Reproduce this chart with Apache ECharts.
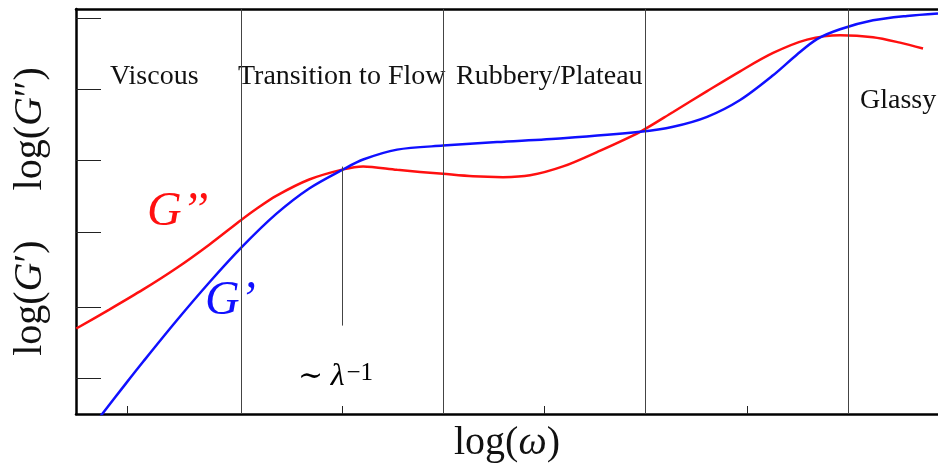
<!DOCTYPE html>
<html>
<head>
<meta charset="utf-8">
<script src="https://cdn.jsdelivr.net/npm/echarts@6/dist/echarts.min.js"></script>
<style>html,body{margin:0;padding:0;background:#fff}#c{width:938px;height:468px}</style>
</head>
<body>
<div id="c"></div>
<script>
// log(omega) positions (arbitrary decades) and log modulus values
const gppX = [0.373, 0.699, 1.035, 1.361, 1.687, 2.003, 2.151, 2.349, 2.675, 3.011, 3.208, 3.544, 3.998, 4.294, 4.591, 4.858, 5.184, 5.520, 5.946, 6.272, 6.608, 6.934, 7.260, 7.596, 7.922, 8.248, 8.515, 8.742];
const gppY = [1.199, 1.464, 1.747, 2.044, 2.375, 2.722, 2.876, 3.060, 3.289, 3.431, 3.472, 3.424, 3.368, 3.333, 3.322, 3.347, 3.472, 3.674, 3.958, 4.236, 4.528, 4.806, 5.063, 5.250, 5.313, 5.285, 5.208, 5.125];
const gpX = [0.560, 0.629, 0.866, 1.035, 1.361, 1.687, 2.003, 2.349, 2.675, 3.011, 3.208, 3.544, 3.998, 4.531, 5.184, 5.946, 6.272, 6.608, 6.934, 7.260, 7.497, 7.694, 7.922, 8.248, 8.584, 8.890];
const gpY = [-0.125, 0.000, 0.433, 0.736, 1.304, 1.844, 2.333, 2.806, 3.163, 3.431, 3.569, 3.708, 3.764, 3.813, 3.868, 3.958, 4.028, 4.167, 4.403, 4.750, 5.042, 5.257, 5.396, 5.521, 5.583, 5.618];
const regionBounds = [2, 4, 6, 8];
const lambdaX = 3;
const lambdaY = [1.24, 3.47];
const xTicks = [0.876, 3, 5, 7];
const yTicks = [0.5, 1.5, 2.556, 3.556, 4.556, 5.556];
const regionNames = ['Viscous', 'Transition to Flow', 'Rubbery/Plateau', 'Glassy'];

const serif = '"Liberation Serif", "DejaVu Serif", serif';
const zip = (xs, ys) => xs.map((x, i) => [x, ys[i]]);

const chart = echarts.init(document.getElementById('c'), null, {renderer: 'canvas'});
chart.setOption({
  animation: false,
  backgroundColor: '#fff',
  grid: {left: 76, right: 0, top: 9, bottom: 50, containLabel: false},
  xAxis: [{
    type: 'value', min: 0.37, max: 8.89,
    axisLine: {show: true, lineStyle: {color: '#000', width: 2.5}},
    axisTick: {show: true, inside: true, length: 8, customValues: xTicks, lineStyle: {color: '#222', width: 1}},
    axisLabel: {show: false},
    splitLine: {show: false},
    name: '{a|log(}{i|ω}{a|)}',
    nameLocation: 'middle', nameGap: 9,
    nameTextStyle: {
      fontFamily: serif, fontSize: 40, color: '#111', verticalAlign: 'top',
      rich: {a: {fontFamily: serif, fontSize: 40, color: '#111'}, i: {fontFamily: serif, fontSize: 40, fontStyle: 'italic', color: '#111'}}
    }
  }, {
    type: 'value', position: 'top', min: 0.37, max: 8.89,
    axisLine: {show: true, onZero: false, lineStyle: {color: '#000', width: 2.5}},
    axisTick: {show: false}, axisLabel: {show: false}, splitLine: {show: false}
  }],
  yAxis: {
    type: 'value', min: 0, max: 5.68,
    axisLine: {show: true, lineStyle: {color: '#000', width: 2.5}},
    axisTick: {show: true, inside: true, length: 25, customValues: yTicks, lineStyle: {color: '#222', width: 1}},
    axisLabel: {show: false},
    splitLine: {show: false},
    name: '{a|log(}{i|G}{a|′)}{sp| }{a|log(}{i|G}{a|″)}',
    nameLocation: 'middle', nameGap: 26, nameRotate: 90,
    nameTextStyle: {
      fontFamily: serif, fontSize: 40, color: '#111',
      rich: {
        a: {fontFamily: serif, fontSize: 40, color: '#111'},
        i: {fontFamily: serif, fontSize: 40, fontStyle: 'italic', color: '#111'},
        sp: {width: 50, fontSize: 40}
      }
    }
  },
  series: [{
    name: 'G″', type: 'line', data: zip(gppX, gppY), smooth: 0.3, showSymbol: false, clip: true,
    lineStyle: {color: '#ff1010', width: 2.5}, z: 3,
    markLine: {
      silent: true, symbol: 'none', label: {show: false},
      lineStyle: {color: '#444', width: 1, type: 'solid'},
      data: regionBounds.map(v => ({xAxis: v})).concat([[{coord: [lambdaX, lambdaY[0]]}, {coord: [lambdaX, lambdaY[1]]}]])
    }
  }, {
    name: 'G′', type: 'line', data: zip(gpX, gpY), smooth: 0.3, showSymbol: false, clip: true,
    lineStyle: {color: '#1010ff', width: 2.5}, z: 4
  }],
  graphic: [
    {type: 'text', left: 110, top: 63, style: {text: regionNames[0], font: '28px ' + serif, fill: '#111'}},
    {type: 'text', left: 238, top: 63, style: {text: regionNames[1], font: '28px ' + serif, fill: '#111'}},
    {type: 'text', left: 456, top: 63, style: {text: regionNames[2], font: '28px ' + serif, fill: '#111'}},
    {type: 'text', left: 860, top: 87, style: {text: regionNames[3], font: '28px ' + serif, fill: '#111'}},
    {type: 'text', left: 147, top: 188, style: {text: 'G’’', font: 'italic 48px ' + serif, fill: '#ff1010'}},
    {type: 'text', left: 205, top: 277, style: {text: 'G’', font: 'italic 48px ' + serif, fill: '#1010ff'}},
    {type: 'text', left: 298, top: 361, style: {
      text: '{n|∼ }{l|λ}{s|−1}',
      rich: {
        n: {fontFamily: serif, fontSize: 30, color: '#111'},
        l: {fontFamily: serif, fontSize: 32, fontStyle: 'italic', color: '#111'},
        s: {fontFamily: serif, fontSize: 25, color: '#111', verticalAlign: 'top', padding: [0, 0, 0, 2]}
      }
    }}
  ]
});
</script>
</body>
</html>
